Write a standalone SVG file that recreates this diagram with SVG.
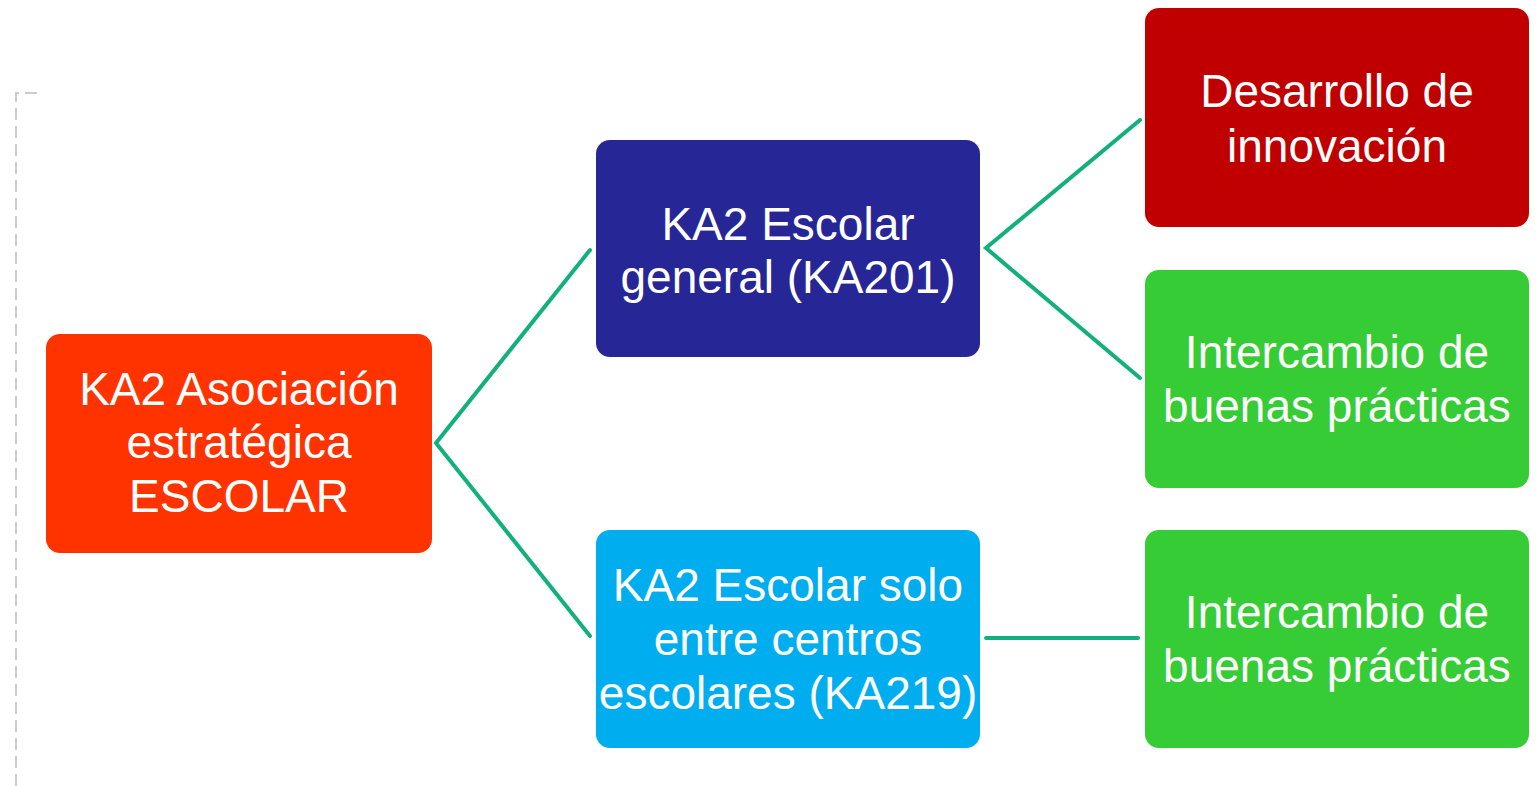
<svg xmlns="http://www.w3.org/2000/svg" width="1537" height="786" viewBox="0 0 1537 786">
<style>
.box{stroke:none}
.t{font-family:"Liberation Sans",Arial,sans-serif;font-size:46px;fill:#ffffff;text-anchor:middle}
.c{stroke:#12b07e;stroke-width:4;fill:none;stroke-linecap:round;stroke-linejoin:miter}
</style>
<rect width="1537" height="786" fill="#ffffff"/>
<path d="M16 786 V93 H42" fill="none" stroke="#cccccc" stroke-width="2" stroke-dasharray="12 6"/>
<g id="connectors">
<polyline class="c" points="590,250 436,443 590,636"/>
<polyline class="c" points="1140,120 986,248 1140,378"/>
<line class="c" x1="986" y1="638" x2="1138" y2="638"/>
</g>
<g id="root">
<rect class="box" x="46" y="334" width="386" height="219" rx="14" fill="#ff3300"/>
<text class="t" x="239" y="405">KA2 Asociación</text>
<text class="t" x="239" y="458">estratégica</text>
<text class="t" x="239" y="512">ESCOLAR</text>
</g>
<g id="ka201">
<rect class="box" x="596" y="140" width="384" height="217" rx="14" fill="#262696"/>
<text class="t" x="788" y="240">KA2 Escolar</text>
<text class="t" x="788" y="293">general (KA201)</text>
</g>
<g id="ka219">
<rect class="box" x="596" y="530" width="384" height="218" rx="14" fill="#00aeef"/>
<text class="t" x="788" y="601">KA2 Escolar solo</text>
<text class="t" x="788" y="655">entre centros</text>
<text class="t" x="788" y="709">escolares (KA219)</text>
</g>
<g id="desarrollo">
<rect class="box" x="1145" y="8" width="384" height="219" rx="14" fill="#c00000"/>
<text class="t" x="1337" y="107">Desarrollo de</text>
<text class="t" x="1337" y="162">innovación</text>
</g>
<g id="intercambio1">
<rect class="box" x="1145" y="270" width="384" height="218" rx="14" fill="#36cc36"/>
<text class="t" x="1337" y="368">Intercambio de</text>
<text class="t" x="1337" y="422">buenas prácticas</text>
</g>
<g id="intercambio2">
<rect class="box" x="1145" y="530" width="384" height="218" rx="14" fill="#36cc36"/>
<text class="t" x="1337" y="628">Intercambio de</text>
<text class="t" x="1337" y="682">buenas prácticas</text>
</g>
</svg>
